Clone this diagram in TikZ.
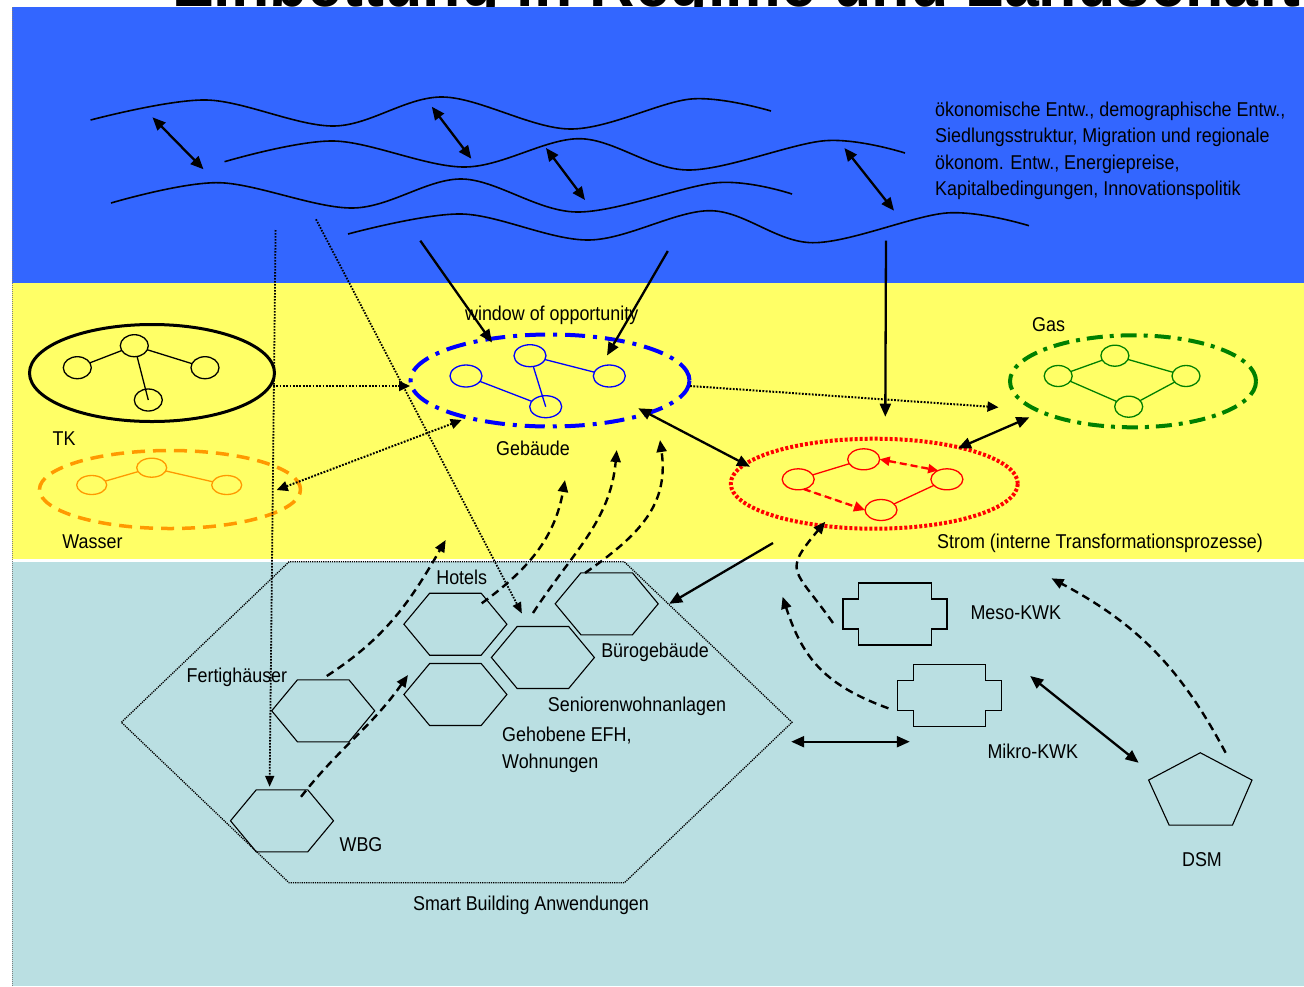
\documentclass[tikz,border=0pt]{standalone}
\usepackage{fontspec}
\setmainfont[FakeStretch=0.895]{Liberation Sans}
\usetikzlibrary{arrows.meta,shapes.geometric,calc}

\definecolor{landschaft}{HTML}{3366FF}
\definecolor{regimegelb}{HTML}{FFFF66}
\definecolor{nischenblau}{HTML}{BADFE2}
\definecolor{wasserorange}{HTML}{FF9900}
\definecolor{gasgruen}{HTML}{008000}
\definecolor{stromrot}{HTML}{FF0000}
\definecolor{gebblau}{HTML}{0000FF}

% flat-topped hexagon drawn on the anchors of a rectangle node
\newcommand{\hexumriss}[2][]{%
  \draw[hexline,#1] (#2.west)
    -- ($(#2.north west)!0.25!(#2.north east)$)
    -- ($(#2.north west)!0.75!(#2.north east)$)
    -- (#2.east)
    -- ($(#2.south west)!0.75!(#2.south east)$)
    -- ($(#2.south west)!0.25!(#2.south east)$)
    -- cycle;}

% stepped block outline for the CHP units
\newcommand{\kwkumriss}[1]{%
  \draw[hexline] ($(#1.north west)+(15.5,0)$) -- ($(#1.north east)+(-15.5,0)$)
    -- ($(#1.north east)+(-15.5,16)$) -- ($(#1.north east)+(0,16)$)
    -- ($(#1.south east)+(0,-16)$) -- ($(#1.south east)+(-15.5,-16)$)
    -- ($(#1.south east)+(-15.5,0)$) -- ($(#1.south west)+(15.5,0)$)
    -- ($(#1.south west)+(15.5,-16)$) -- ($(#1.south west)+(0,-16)$)
    -- ($(#1.north west)+(0,16)$) -- ($(#1.north west)+(15.5,16)$) -- cycle;}

\tikzset{
  txt/.style={inner sep=0pt, font=\fontsize{20}{26.5}\selectfont},
  feld/.style={draw, ellipse, inner sep=0pt, outer sep=0pt},
  netz/.style={draw, ellipse, inner sep=0pt, outer sep=0pt, line width=1.3pt},
  anker/.style={rectangle, inner sep=0pt, outer sep=0pt},
  hexline/.style={line width=1.1pt, line join=miter},
  welle/.style={line width=1.6pt},
  voll/.style={line width=2.3pt, -{Triangle[length=13pt,width=11pt]}},
  vollzwei/.style={line width=2.3pt, {Triangle[length=13pt,width=11pt]}-{Triangle[length=13pt,width=11pt]}},
  punkt/.style={line width=2pt, dash pattern=on 1.8pt off 1.5pt, -{Triangle[length=11pt,width=10pt]}},
  punktzwei/.style={line width=2pt, dash pattern=on 1.8pt off 1.5pt, {Triangle[length=11pt,width=10pt]}-{Triangle[length=11pt,width=10pt]}},
  punktduenn/.style={line width=1.8pt, dash pattern=on 1.6pt off 1.4pt, -{Triangle[length=11pt,width=9pt]}},
  strich/.style={line width=2.4pt, dash pattern=on 8pt off 5pt, -{Triangle[length=12pt,width=10pt]}},
  rotstrich/.style={draw=stromrot, fill=stromrot, line width=2.3pt, dash pattern=on 7pt off 4pt},
}

\begin{document}
\begin{tikzpicture}[x=1pt,y=-1pt]
\useasboundingbox (0,0) rectangle (1304,986);
\clip (0,0) rectangle (1304,986);

% page title, mostly cut off above the top edge
\node[anchor=base west, inner sep=0pt, font=\fontsize{70}{70}\selectfont\bfseries] (titel) at (172,6.5) {Einbettung in Regime und Landschaft};

% the three levels
\fill[landschaft] (12,7) rectangle (1304,283);
\fill[regimegelb] (12,283) rectangle (1304,559);
\fill[nischenblau] (12,562) rectangle (1304,986);
\draw[gray, line width=0.6pt, dash pattern=on 1pt off 1pt] (12,7) -- (12,986);

% ---------------- landscape: waves ----------------
\draw[welle] plot[smooth, tension=0.55] coordinates {(90.6,120) (206.7,100) (334,126) (442.6,97) (570,129) (691,99) (771,111)};
\draw[welle] plot[smooth, tension=0.55] coordinates {(224.5,161.7) (334,141) (465,167) (580,138.7) (688,170) (825,140.7) (905,153)};
\draw[welle] plot[smooth, tension=0.55] coordinates {(111,203) (219,182.7) (353,208) (462,179) (576.6,212) (717,182.7) (792,194)};
\draw[welle] plot[smooth, tension=0.55] coordinates {(348,234) (462,214) (589,240) (710.5,210.7) (812.6,242.7) (946.5,213) (1029,225.7)};

\coordinate (w1a) at (152.5,117.3); \coordinate (w1b) at (203.5,169.3);
\coordinate (w2a) at (431.8,106.7); \coordinate (w2b) at (471.3,158.7);
\coordinate (w3a) at (546,148);     \coordinate (w3b) at (585,200);
\coordinate (w4a) at (844.4,148);   \coordinate (w4b) at (894,210.7);
\coordinate (l1) at (420.3,240.7);
\coordinate (l2) at (667.8,251);
\coordinate (l3) at (886,240.7);
\coordinate (l4) at (275.6,230);
\coordinate (l5) at (316,219.3);

\draw[vollzwei] (w1a) -- (w1b);
\draw[vollzwei] (w2a) -- (w2b);
\draw[vollzwei] (w3a) -- (w3b);
\draw[vollzwei] (w4a) -- (w4b);

\node[txt, anchor=base west] (trends) at (935,116) {\begin{tabular}[t]{@{}l@{}}ökonomische Entw., demographische Entw.,\\Siedlungsstruktur, Migration und regionale\\ökonom. Entw., Energiepreise,\\Kapitalbedingungen, Innovationspolitik\end{tabular}};

% ---------------- regimes ----------------
\node[feld, line width=3pt, minimum width=245pt, minimum height=97pt] (tk) at (152,373) {};
\node[netz, minimum width=28pt, minimum height=22pt] (tka) at (134.3,345.7) {};
\node[netz, minimum width=28pt, minimum height=22pt] (tkb) at (77.3,367.7) {};
\node[netz, minimum width=28pt, minimum height=22pt] (tkc) at (205,367.7) {};
\node[netz, minimum width=28pt, minimum height=22pt] (tkd) at (148.3,400) {};
\draw[line width=1.3pt] (tka) -- (tkb);
\draw[line width=1.3pt] (tka) -- (tkc);
\draw[line width=1.3pt] (tka) -- (tkd.center);
\node[txt] (tklabel) at (64,439) {TK};

\node[feld, draw=wasserorange, line width=3.5pt, dash pattern=on 13pt off 8pt, minimum width=261pt, minimum height=78pt] (wasser) at (170,489.5) {};
\node[netz, draw=wasserorange, minimum width=30pt, minimum height=19pt] (wa) at (151.7,467.7) {};
\node[netz, draw=wasserorange, minimum width=30pt, minimum height=19pt] (wb) at (91.7,485) {};
\node[netz, draw=wasserorange, minimum width=30pt, minimum height=19pt] (wc) at (226.7,485) {};
\draw[wasserorange, line width=1.3pt] (wa) -- (wb);
\draw[wasserorange, line width=1.3pt] (wa) -- (wc);
\node[txt] (wasserlabel) at (92.5,541.5) {Wasser};

\node[feld, draw=gebblau, line width=4pt, dash pattern=on 20pt off 8pt on 4pt off 8pt, minimum width=279pt, minimum height=92pt] (geb) at (550,380.5) {};
\node[netz, draw=gebblau, minimum width=32pt, minimum height=22pt] (ga) at (530,355.7) {};
\node[netz, draw=gebblau, minimum width=32pt, minimum height=22pt] (gb) at (466,376) {};
\node[netz, draw=gebblau, minimum width=32pt, minimum height=22pt] (gc) at (609.3,376) {};
\node[netz, draw=gebblau, minimum width=32pt, minimum height=22pt] (gd) at (545.7,406.7) {};
\draw[gebblau, line width=1.3pt] (gb) -- (gd);
\draw[gebblau, line width=1.3pt] (ga) -- (gd.center);
\draw[gebblau, line width=1.3pt] (ga) -- (gc);
\node[txt] (window) at (551.7,315.5) {window of opportunity};
\node[txt] (geblabel) at (533,448.5) {Gebäude};

\node[feld, draw=gasgruen, line width=4pt, dash pattern=on 16pt off 7pt on 4pt off 7pt, minimum width=246pt, minimum height=92pt] (gas) at (1133,381.3) {};
\node[netz, draw=gasgruen, minimum width=28pt, minimum height=21pt] (gsa) at (1114.9,355.7) {};
\node[netz, draw=gasgruen, minimum width=28pt, minimum height=21pt] (gsb) at (1058.2,376) {};
\node[netz, draw=gasgruen, minimum width=28pt, minimum height=21pt] (gsc) at (1186,376) {};
\node[netz, draw=gasgruen, minimum width=28pt, minimum height=21pt] (gsd) at (1128.7,406.7) {};
\draw[gasgruen, line width=1.3pt] (gsb) -- (gsa);
\draw[gasgruen, line width=1.3pt] (gsa) -- (gsc);
\draw[gasgruen, line width=1.3pt] (gsc) -- (gsd);
\draw[gasgruen, line width=1.3pt] (gsb) -- (gsd);
\node[txt] (gaslabel) at (1048.6,325) {Gas};

\node[feld, draw=stromrot, line width=4pt, dash pattern=on 3pt off 2pt, minimum width=287pt, minimum height=90pt] (strom) at (874.3,483.7) {};
\node[netz, draw=stromrot, minimum width=32pt, minimum height=21pt] (sa) at (863.7,459.3) {};
\node[netz, draw=stromrot, minimum width=32pt, minimum height=21pt] (sb) at (798.2,479.3) {};
\node[netz, draw=stromrot, minimum width=32pt, minimum height=21pt] (sc) at (946.9,479.3) {};
\node[netz, draw=stromrot, minimum width=32pt, minimum height=21pt] (sd) at (881,510) {};
\draw[stromrot, line width=1.3pt] (sb) -- (sa);
\draw[stromrot, line width=1.3pt] (sc) -- (sd);
\draw[rotstrich, {Triangle[length=10pt,width=9pt]}-{Triangle[length=10pt,width=9pt]}] (sa.east) -- (sc.135);
\draw[rotstrich, -{Triangle[length=11pt,width=10pt]}] (sb.-60) -- (sd.west);
\node[txt] (stromlabel) at (1100,543) {Strom (interne Transformationsprozesse)};

% ---------------- niches ----------------
\node[anker, minimum width=670.6pt, minimum height=321pt] (smart) at (456.7,722.3) {};
\hexumriss[line width=1.3pt, dash pattern=on 1.2pt off 1pt]{smart}
\node[txt] (smartlabel) at (531,905) {Smart Building Anwendungen};

\node[anker, minimum width=103pt, minimum height=62pt] (hotels) at (455.4,624.2) {};
\node[anker, minimum width=103pt, minimum height=62pt] (senioren) at (542.9,657.5) {};
\node[anker, minimum width=103pt, minimum height=62pt] (buero) at (606.7,603.8) {};
\node[anker, minimum width=103pt, minimum height=62pt] (gehobene) at (455.4,694.5) {};
\node[anker, minimum width=103pt, minimum height=62pt] (fertig) at (323.2,710.8) {};
\node[anker, minimum width=103pt, minimum height=62pt] (wbg) at (282,820.8) {};
\hexumriss{hotels}
\hexumriss{senioren}
\hexumriss{buero}
\hexumriss{gehobene}
\hexumriss{fertig}
\hexumriss{wbg}

\node[txt] (hotelslabel) at (461.7,577.5) {Hotels};
\node[txt] (buerolabel) at (655,652) {Bürogebäude};
\node[txt] (seniorenlabel) at (637,706) {Seniorenwohnanlagen};
\node[txt, anchor=base west] (gehobenelabel) at (502,741.7) {\begin{tabular}[t]{@{}l@{}}Gehobene EFH,\\Wohnungen\end{tabular}};
\node[txt] (fertiglabel) at (236.9,677.5) {Fertighäuser};
\node[txt] (wbglabel) at (361,845) {WBG};

\node[anker, minimum width=104pt, minimum height=62pt] (meso) at (895,614) {};
\node[anker, minimum width=103.4pt, minimum height=62.4pt] (mikro) at (949.5,695.5) {};
\kwkumriss{meso}
\kwkumriss{mikro}
\node[txt] (mesolabel) at (1015.8,613) {Meso-KWK};
\node[txt] (mikrolabel) at (1032.8,751.7) {Mikro-KWK};

\node[anker, minimum width=103.4pt, minimum height=72.3pt] (dsm) at (1200.3,788.9) {};
\draw[hexline] (dsm.north) -- ($(dsm.north east)+(0,27.3)$) -- ($(dsm.south east)+(-19.5,0)$)
  -- ($(dsm.south west)+(20.5,0)$) -- ($(dsm.north west)+(0,27.3)$) -- cycle;
\node[txt] (dsmlabel) at (1202,860) {DSM};

% ---------------- connectors ----------------
% landscape pressure on the regimes
\draw[voll] (l1) -- ($(geb)+(-58,-38)$);
\draw[voll] (l2) -- ($(geb)+(57,-25)$);
\draw[voll] (l3) -- ($(strom)+(11,-67)$);
\draw[punktduenn] (l4) -- ($(wbg)+(-12.4,-34)$);
\draw[punktduenn] (l5) -- ($(senioren)+(-21,-44)$);

% links between regimes
\draw[punkt] ($(tk)+(121,13)$) -- ($(geb)+(-140,5.5)$);
\draw[punkt] ($(geb)+(140,5.5)$) -- ($(gas)+(-134.5,26)$);
\draw[punktzwei] ($(wasser)+(106.7,0.5)$) -- ($(geb)+(-88.3,39.5)$);
\draw[vollzwei] ($(geb)+(88.3,27.8)$) -- ($(strom)+(-124.3,-17)$);
\draw[vollzwei] ($(strom)+(83.7,-35.4)$) -- ($(gas)+(-103.6,36)$);
\draw[voll] ($(strom)+(-101.3,59.3)$) -- ($(buero.east)+(11,0)$);

% niches acting on the regimes
\draw[strich] ($(wbg)+(19,-24)$) to[out=52,in=-125] ($(gehobene)+(-47.4,-19.5)$);
\draw[strich] ($(fertig)+(3.6,-34.8)$) to[out=33,in=-120] ($(geb)+(-104.3,159.5)$);
\draw[strich] ($(hotels)+(26.3,-20.9)$) to[out=36,in=-100] ($(geb)+(15,99.5)$);
\draw[strich] ($(senioren)+(-9.9,-44.5)$) to[out=57,in=-95] ($(geb)+(66.7,69.5)$);
\draw[strich] ($(buero)+(-21.7,-30.8)$) to[out=35,in=-82,looseness=1.1] ($(geb)+(110,59.5)$);
\draw[strich] ($(meso)+(-62,9)$) to[out=125,in=-130,looseness=1.7] ($(strom)+(-49,38)$);
\draw[strich] ($(mikro)+(-61.1,12.8)$) to[out=160,in=-72,looseness=1.1] ($(strom)+(-91.7,113)$);
\draw[strich] ($(dsm)+(25.3,-36.2)$) to[out=118,in=-28] ($(strom)+(177.2,94.6)$);

% links between the niches
\draw[vollzwei] ($(smart.east)+(-0.8,19.4)$) -- ($(mikro.south west)+(12,15)$);
\draw[vollzwei] ($(mikro.east)+(29,-19.5)$) -- ($(dsm.north west)+(-10,10)$);

\end{tikzpicture}
\end{document}
